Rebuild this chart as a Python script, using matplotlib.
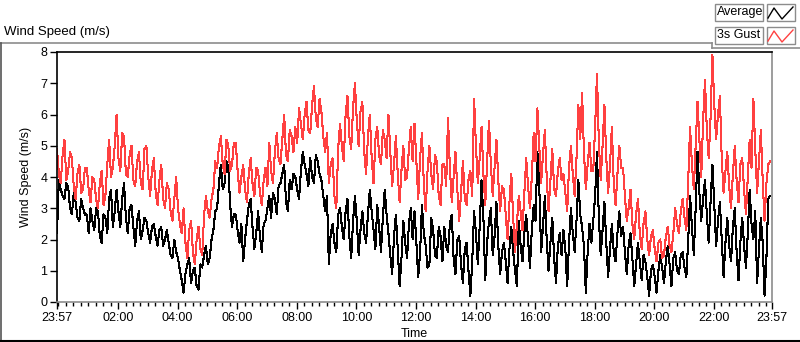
import matplotlib
matplotlib.use('Agg')
import matplotlib.pyplot as plt
import numpy as np
from matplotlib.lines import Line2D
from matplotlib.patches import Rectangle

plt.rcParams['font.family'] = ['Liberation Sans', 'DejaVu Sans']

# readings every 3.75 minutes starting 23:57 (16 per row = 1 hour)
gust = [
    4.9, 4.1, 3.8, 4.7, 5.2, 3.9, 4.2, 4.8, 4.6, 3.7, 3.3, 4.1, 4.4, 3.5, 3.6, 4.3,
    4.3, 3.6, 3.2, 4.0, 3.9, 3.3, 3.0, 3.8, 4.2, 3.1, 3.4, 4.4, 5.2, 4.0, 4.3, 5.0,
    6.0, 4.6, 4.2, 5.4, 5.3, 4.1, 4.0, 4.7, 5.0, 3.9, 3.7, 4.5, 4.8, 3.8, 3.6, 4.9,
    5.0, 4.0, 3.4, 4.2, 4.6, 3.5, 3.1, 3.9, 4.4, 3.3, 3.0, 3.8, 3.6, 2.9, 2.6, 3.3,
    4.0, 3.0, 2.5, 2.2, 3.0, 1.9, 1.4, 2.3, 2.6, 1.6, 1.2, 2.0, 2.4, 1.7, 1.5, 2.8,
    3.4, 2.9, 2.7, 3.3, 3.6, 4.5, 4.3, 5.0, 5.3, 4.4, 4.1, 5.2, 5.0, 4.2, 4.4, 5.1,
    5.1, 4.2, 3.5, 4.0, 4.4, 3.6, 3.2, 4.1, 4.6, 3.8, 3.4, 4.3, 4.2, 3.5, 3.1, 3.9,
    4.3, 3.7, 5.1, 4.2, 3.8, 4.8, 5.4, 4.6, 4.4, 5.2, 6.0, 4.7, 4.5, 5.5, 5.3, 4.8,
    5.6, 5.1, 6.2, 5.7, 5.2, 6.0, 6.4, 5.5, 5.4, 6.3, 6.9, 5.9, 5.6, 6.5, 6.1, 5.3,
    4.8, 5.4, 3.8, 4.4, 4.6, 3.4, 3.0, 4.9, 5.7, 5.0, 4.5, 6.0, 6.6, 5.3, 4.9, 6.2,
    7.0, 5.8, 5.0, 6.1, 6.4, 4.8, 4.1, 5.3, 6.0, 4.6, 3.8, 5.2, 5.6, 4.7, 4.4, 5.5,
    5.2, 4.6, 6.0, 4.8, 3.7, 4.4, 5.3, 4.1, 3.2, 4.2, 5.0, 3.9, 4.0, 4.9, 5.6, 4.5,
    5.7, 4.5, 3.3, 4.6, 5.4, 3.8, 2.9, 4.2, 5.0, 4.1, 3.6, 4.7, 4.5, 3.4, 3.1, 4.4,
    4.4, 3.7, 5.9, 4.3, 3.2, 4.0, 4.8, 3.6, 2.6, 3.5, 4.5, 3.3, 3.1, 3.9, 4.2, 3.4,
    6.5, 5.0, 3.8, 4.6, 5.6, 4.1, 3.1, 4.5, 5.8, 4.4, 3.4, 4.3, 5.2, 3.9, 2.9, 3.7,
    3.6, 2.8, 2.0, 3.2, 4.1, 2.7, 1.6, 2.5, 3.4, 2.9, 2.3, 3.5, 4.6, 3.7, 3.0, 4.0,
    5.4, 4.5, 6.2, 5.0, 3.8, 4.7, 5.5, 4.0, 2.9, 3.9, 4.9, 3.6, 3.4, 4.2, 4.6, 3.9,
    4.1, 3.5, 2.9, 4.3, 5.0, 4.1, 3.4, 4.6, 6.3, 5.2, 6.7, 4.8, 3.6, 4.4, 5.1, 4.2,
    4.2, 5.6, 7.3, 5.1, 3.9, 5.0, 6.3, 4.6, 3.5, 4.4, 5.6, 3.8, 3.1, 4.1, 5.0, 4.3,
    4.3, 3.4, 2.6, 3.0, 3.6, 2.5, 2.0, 2.8, 3.3, 2.2, 1.7, 2.5, 2.9, 2.0, 1.5, 2.1,
    2.3, 1.7, 1.3, 1.9, 2.0, 1.4, 1.5, 2.1, 2.4, 1.8, 1.6, 2.2, 3.0, 2.5, 2.2, 2.9,
    3.3, 2.7, 2.3, 3.9, 5.6, 4.4, 3.6, 5.0, 6.4, 5.2, 4.0, 5.8, 7.1, 5.5, 4.6, 5.9,
    7.9, 6.3, 5.2, 6.0, 6.6, 4.6, 3.5, 4.2, 4.8, 3.7, 3.0, 4.1, 5.0, 3.9, 3.2, 4.4,
    4.6, 3.6, 2.8, 4.0, 5.2, 4.3, 6.5, 4.9, 3.5, 4.5, 5.5, 3.9, 2.6, 3.8, 4.4, 4.5,
]
average = [
    2.2, 3.9, 3.6, 3.4, 3.3, 3.8, 3.7, 3.0, 2.8, 3.5, 3.2, 2.7, 2.6, 3.3, 3.0, 2.8,
    2.8, 2.2, 3.0, 2.6, 2.3, 3.0, 2.9, 2.1, 1.9, 2.8, 2.7, 2.2, 3.3, 3.6, 2.4, 2.9,
    3.6, 2.9, 2.4, 3.3, 3.8, 2.7, 2.2, 3.0, 3.1, 2.4, 1.8, 2.6, 2.9, 2.0, 2.3, 2.7,
    2.6, 2.2, 1.9, 2.4, 2.5, 2.1, 1.8, 2.3, 2.4, 1.8, 2.0, 2.3, 1.9, 1.5, 1.4, 2.0,
    1.6, 1.4, 1.0, 0.7, 0.3, 0.9, 1.2, 1.4, 0.6, 1.0, 1.1, 0.5, 0.4, 1.2, 1.1, 1.5,
    1.8, 1.2, 1.4, 2.0, 2.3, 2.9, 3.0, 3.8, 4.4, 3.6, 3.8, 4.5, 4.3, 3.1, 2.4, 2.8,
    2.8, 2.3, 1.9, 2.5, 1.3, 2.0, 2.6, 3.1, 3.3, 2.4, 1.7, 2.2, 2.9, 2.1, 1.6, 2.5,
    2.6, 3.0, 3.4, 2.7, 3.5, 3.3, 2.8, 3.7, 3.8, 4.1, 4.4, 3.2, 2.9, 3.9, 3.6, 4.1,
    4.0, 3.6, 3.3, 4.2, 4.8, 4.4, 4.1, 3.7, 4.6, 4.0, 3.8, 4.7, 4.5, 4.1, 3.9, 3.4,
    2.9, 3.4, 1.2, 2.2, 2.5, 1.9, 1.6, 2.8, 3.0, 2.4, 2.0, 2.9, 3.3, 2.1, 1.4, 2.6,
    3.4, 2.6, 1.5, 2.3, 2.9, 2.2, 1.9, 2.8, 3.6, 2.9, 2.3, 1.7, 3.1, 2.4, 1.6, 2.7,
    3.6, 2.8, 2.2, 1.5, 0.9, 2.1, 2.8, 1.7, 0.5, 1.4, 2.6, 1.9, 1.4, 2.5, 3.0, 2.0,
    2.9, 1.9, 0.8, 1.6, 3.1, 2.2, 1.8, 1.1, 1.2, 2.7, 2.3, 1.5, 1.4, 2.4, 2.1, 1.3,
    2.4, 1.8, 1.6, 2.5, 2.8, 1.4, 0.9, 2.0, 2.1, 1.2, 0.6, 1.7, 1.9, 1.0, 0.2, 1.3,
    2.9, 2.2, 1.2, 2.4, 3.9, 2.7, 0.7, 1.9, 2.6, 3.0, 1.5, 2.1, 3.2, 1.8, 0.9, 1.6,
    1.9, 1.3, 0.6, 1.7, 2.4, 1.6, 1.0, 0.5, 2.6, 1.8, 1.3, 2.2, 2.8, 2.0, 1.1, 2.3,
    3.1, 2.6, 4.8, 3.7, 1.6, 2.4, 3.4, 2.0, 1.0, 1.9, 2.7, 1.4, 0.6, 1.8, 2.2, 1.5,
    2.3, 1.7, 0.5, 1.9, 3.0, 2.2, 1.6, 2.6, 3.9, 2.8, 2.4, 1.8, 0.3, 1.6, 2.5, 1.9,
    2.6, 3.4, 4.8, 2.7, 1.5, 2.3, 3.2, 1.9, 0.8, 1.7, 2.5, 1.6, 1.3, 2.2, 2.9, 2.1,
    2.4, 1.6, 0.9, 1.8, 2.2, 1.4, 0.5, 1.2, 1.9, 1.3, 0.7, 1.5, 1.3, 0.8, 0.2, 1.0,
    1.2, 0.8, 0.3, 1.0, 1.5, 1.1, 0.6, 1.3, 1.8, 1.2, 0.5, 1.4, 1.6, 1.0, 0.9, 1.5,
    1.6, 1.1, 0.8, 2.0, 3.4, 2.4, 1.5, 3.0, 4.8, 3.5, 2.6, 3.3, 3.9, 2.8, 1.9, 3.2,
    4.4, 3.1, 1.8, 2.6, 3.2, 2.0, 0.8, 1.9, 2.7, 1.8, 1.3, 2.4, 3.0, 1.6, 0.7, 1.9,
    2.7, 1.8, 1.1, 2.2, 3.6, 2.5, 2.0, 2.9, 0.6, 1.7, 2.7, 1.9, 0.2, 1.4, 3.3, 3.4,
]
step_min = 3.75
# minutes since 23:57
t = np.arange(len(gust)) * step_min

tick_pos = [0, 123, 243, 363, 483, 603, 723, 843, 963, 1083, 1203, 1323, 1440]
tick_labels = ['23:57', '02:00', '04:00', '06:00', '08:00', '10:00', '12:00',
               '14:00', '16:00', '18:00', '20:00', '22:00', '23:57']

W, H = 800, 342
fig = plt.figure(figsize=(W / 100, H / 100), dpi=100)


def fx(x):
    return x / W


def fy(y):
    return 1 - y / H


ax = fig.add_axes([fx(57), fy(302), (772 - 57) / W, (302 - 52) / H])
# LabVIEW draws 1px aliased traces
ax.plot(t, average, color='black', lw=0.75, antialiased=False)
ax.plot(t, gust, color='#ff4040', lw=0.75, antialiased=False)
ax.set_xlim(0, 1440)
ax.set_ylim(0, 8)

ax.set_yticks(range(9))
ax.set_xticks(tick_pos)
ax.set_xticklabels(tick_labels)
ax.set_xticks(np.arange(3, 1440, 15), minor=True)
ax.tick_params(axis='both', which='major', labelsize=9, length=5, width=1, pad=2)
ax.tick_params(axis='x', which='minor', length=3, width=1)
ax.tick_params(axis='y', which='minor', length=0)

for side in ['top', 'left']:
    ax.spines[side].set_color('black')
    ax.spines[side].set_linewidth(1.2)
for side in ['right', 'bottom']:
    ax.spines[side].set_color('#8c8c8c')
    ax.spines[side].set_linewidth(1.2)

ax.set_xlabel('Time', fontsize=9, labelpad=3)
ax.set_ylabel('Wind Speed (m/s)', fontsize=9, labelpad=6)

# outer frame of the graph
frame = '#8c8c8c'
fig.add_artist(Line2D([fx(0), fx(712)], [fy(42.5), fy(42.5)], color=frame, lw=1.2))
fig.add_artist(Line2D([fx(712), fx(712)], [fy(42.5), fy(48)], color=frame, lw=1.2))
fig.add_artist(Line2D([fx(712), fx(800)], [fy(48), fy(48)], color=frame, lw=1.2))
fig.add_artist(Line2D([fx(0.6), fx(0.6)], [fy(42.5), fy(341)], color='#555555', lw=1.2))
fig.add_artist(Line2D([fx(0), fx(800)], [fy(340.5), fy(340.5)], color='black', lw=1.5))

fig.text(fx(4), fy(32), 'Wind Speed (m/s)', fontsize=9.5, va='center', ha='left')

# legend boxes
legend_items = [('Average', 'black', 4), ('3s Gust', '#ff4040', 27)]
for name, col, top in legend_items:
    fig.add_artist(Rectangle((fx(715), fy(top + 17)), 48 / W, 17 / H,
                             fill=False, ec='#8c8c8c', lw=1.0))
    fig.text(fx(717), fy(top + 8.5), name, fontsize=9, va='center', ha='left')
    fig.add_artist(Rectangle((fx(767), fy(top + 17)), 28 / W, 17 / H,
                             fill=False, ec='#8c8c8c', lw=1.0))
    zx = [768, 774, 782, 793]
    zy = [top + 14, top + 4, top + 15, top + 3]
    fig.add_artist(Line2D([fx(v) for v in zx], [fy(v) for v in zy], color=col, lw=1.0))

fig.savefig('out.png', dpi=100)
